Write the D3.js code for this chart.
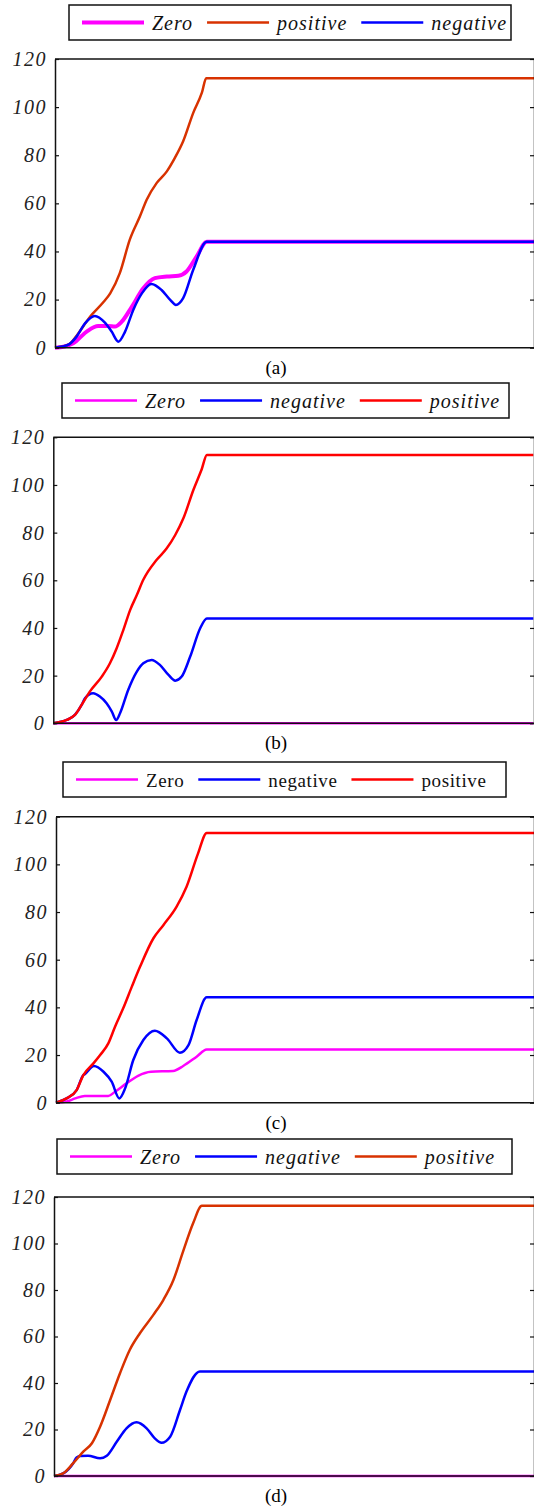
<!DOCTYPE html>
<html>
<head>
<meta charset="utf-8">
<script src="https://cdn.jsdelivr.net/npm/d3@7/dist/d3.min.js"></script>
<style>
    body { margin: 0; background: #fff; }
    svg { display: block; }
    svg text { font-family: 'Liberation Serif', 'Times New Roman', 'DejaVu Serif', serif; }
</style>
</head>
<body>
<svg id="chart" width="534" height="1510"></svg>
<script>
/* Four stacked panels, each plotting three responses (Zero, positive,
   negative) against time. The x axis has no ticks, so time runs 0..100
   across the visible plot width. */

const yTicks = [0, 20, 40, 60, 80, 100, 120];
const panelLabels = ['(a)', '(b)', '(c)', '(d)'];

// panel (a)
const aZero = [[0,0],[2,0.5],[3.8,1.8],[6.6,6.7],[9,9],[11.1,9],[12.5,8.8],[13.9,10.8],[16,17],[18.4,24.7],
    [20.8,28.9],[23.3,29.6],[25.7,29.9],[27.4,31.7],[29.5,37.9],[31.6,44],[100,44]];
const aPositive = [[0,0],[1.5,0.5],[3,1.5],[4.5,5],[7.3,12.9],[10.1,19],[11.5,22.6],[13.5,31],[15.6,45],
    [17.7,54.6],[19.1,61.5],[21.2,68.5],[23.3,73.3],[25,79],[26.7,85.8],[28.8,97.6],[30.6,106],[31.5,112],[100,112]];
const aNegative = [[0,0],[1.5,0.5],[3,1.5],[4.5,4.6],[6.25,10.1],[8.3,13.2],[10.4,10.4],[11.8,6.7],[13.2,2.5],
    [14.6,6.7],[16.3,15.7],[18.1,22.6],[20.1,26.5],[22.2,24],[24,19.9],[25.2,17.8],[26.7,20.6],[28.8,32.4],
    [31.6,44],[100,44]];

// panel (b)
const bZero = [[0,0],[100,0]];
const bNegative = [[0,0],[2.8,1.4],[4.5,3.5],[5.9,7.7],[6.6,10.5],[8.3,12.6],[9.7,11.2],[11.1,8.4],[12.2,4.9],
    [13.1,1.4],[13.9,4.2],[15.6,14],[17.4,21.7],[18.75,25.2],[20.5,26.6],[22.2,24.5],[24,20.3],[25.4,17.9],
    [26.75,19.6],[28.5,27.9],[30.6,39.9],[32,44],[100,44]];
const bPositive = [[0,0],[2.8,1.4],[4.5,3.5],[5.9,7.7],[7.6,13.3],[10.1,19.6],[11.8,25.2],[13.2,31.5],
    [14.6,39.2],[16,47.5],[17.4,53.8],[18.75,60.2],[21.5,68.5],[23.6,73.3],[25.4,79],[27.1,86],[29.2,98],
    [30.9,106.5],[32,112.6],[100,112.6]];

// panel (c)
const cZero = [[0,0],[2.2,0.5],[4,1.8],[6,2.8],[10.9,2.8],[12.3,4.6],[14.7,8.1],[17.1,11.3],[19.8,13],
    [24.4,13.3],[26.5,15.4],[29.3,19.3],[31.4,22.3],[100,22.3]];
const cNegative = [[0,0],[2.2,1.8],[4.3,5.3],[5.7,11.6],[6,12],[7.9,15.4],[9.9,13],[11.6,8.8],[13.2,1.8],
    [14.4,6],[16.1,17.9],[18.2,26.3],[20.6,30.2],[23.1,27],[25.8,21],[27.6,24.2],[29.3,34.7],[31.4,44.2],[100,44.2]];
const cPositive = [[0,0],[2.2,1.8],[4.3,5.3],[5.7,11.6],[7.8,16.5],[9.2,20],[10.9,24.9],[12.3,31.9],[14,39.6],
    [15.8,48.7],[17.5,57],[20.3,69],[22.4,74.6],[25.1,82.2],[27.2,90.6],[29.6,104.6],[31.4,113.2],[100,113.2]];

// panel (d)
const dZero = [[0,0],[100,0]];
const dNegative = [[0,0],[1.9,1.1],[4,5.5],[4.7,8],[5.5,8.6],[7.1,8.7],[9.6,7.6],[11,8.7],[13.1,14.8],
    [15.1,20.5],[17.2,23.1],[19.3,20.5],[21,16.2],[22.4,14.3],[24.2,16.9],[26.25,28.4],[27.6,36.3],[30.4,45],[100,45]];
const dPositive = [[0,0],[1.9,1.1],[4,5.5],[6.1,10.5],[7.9,14.1],[9.6,21.2],[11.7,32.7],[13.75,44.2],
    [15.8,54.3],[17.9,61.4],[20.7,69.3],[22.8,75.8],[24.9,84.4],[26.9,96.6],[29,108.8],[30.8,116.2],[100,116.2]];

const colors = {
    zero: '#ff00ff',
    negative: '#0000ff',
    positive: '#ff0000',
    positiveDark: '#d83200'
};

// layout of each panel: legend box and plot frame, in pixels
const panels = [
    { label: panelLabels[0], legend: [69, 5, 511], plot: [55, 59, 347.7], italic: true,
      series: [
        { name: 'Zero', data: aZero, color: colors.zero, width: 4 },
        { name: 'positive', data: aPositive, color: colors.positiveDark, width: 2.5 },
        { name: 'negative', data: aNegative, color: colors.negative, width: 2.5 }] },
    { label: panelLabels[1], legend: [62, 383, 509], plot: [53.3, 437.3, 723.3], italic: true,
      series: [
        { name: 'Zero', data: bZero, color: colors.zero, width: 2.5 },
        { name: 'negative', data: bNegative, color: colors.negative, width: 2.5 },
        { name: 'positive', data: bPositive, color: colors.positive, width: 2.5 }] },
    { label: panelLabels[2], legend: [63, 762, 506], plot: [56, 816.7, 1102.7], italic: false,
      series: [
        { name: 'Zero', data: cZero, color: colors.zero, width: 2.5 },
        { name: 'negative', data: cNegative, color: colors.negative, width: 2.5 },
        { name: 'positive', data: cPositive, color: colors.positive, width: 2.5 }] },
    { label: panelLabels[3], legend: [57, 1139, 512], plot: [54, 1197, 1476], italic: true,
      series: [
        { name: 'Zero', data: dZero, color: colors.zero, width: 2.5 },
        { name: 'negative', data: dNegative, color: colors.negative, width: 2.5 },
        { name: 'positive', data: dPositive, color: colors.positiveDark, width: 2.5 }] }
];

const SERIF = "'Liberation Serif', 'Times New Roman', 'DejaVu Serif', serif";
const PLOT_RIGHT = 535;
const root = d3.select('#chart');

function drawPanel(panel) {
    let [left, top, bottom] = panel.plot;
    let g = root.append('g');

    let x = d3.scaleLinear().domain([0, 100]).range([left, left + 480]);
    let y = d3.scaleLinear().domain([0, 120]).range([bottom, top]);

    // curves first, the frame goes on top of them
    let line = d3.line()
        .x(d => x(d[0]))
        .y(d => y(d[1]))
        .curve(d3.curveMonotoneX);
    panel.series.forEach(s => {
        g.append('path')
            .attr('d', line(s.data))
            .attr('fill', 'none')
            .attr('stroke', s.color)
            .attr('stroke-width', s.width)
            .attr('stroke-linejoin', 'round');
    });

    // left axis with inward ticks and italic labels
    let leftAxis = d3.axisLeft(y).tickValues(yTicks).tickSizeInner(-4).tickSizeOuter(0).tickPadding(8);
    let ga = g.append('g').attr('transform', `translate(${left},0)`).call(leftAxis);
    ga.attr('font-family', null);
    ga.select('.domain').attr('stroke', '#111').attr('stroke-width', 1.5);
    ga.selectAll('.tick line').attr('stroke', '#111').attr('stroke-width', 1.2);
    ga.selectAll('.tick text')
        .style('font-family', SERIF)
        .style('font-style', 'italic')
        .style('font-size', '20px')
        .style('letter-spacing', '1.5px')
        .attr('fill', '#222');

    // right axis mirrors the ticks (cut off by the figure edge)
    let rightAxis = d3.axisRight(y).tickValues(yTicks).tickSizeInner(-4).tickSizeOuter(0).tickFormat('');
    let gr = g.append('g').attr('transform', `translate(${PLOT_RIGHT - 1},0)`).call(rightAxis);
    gr.selectAll('.tick line').attr('stroke', '#111').attr('stroke-width', 1.2);
    gr.select('.domain').attr('stroke', '#111').attr('stroke-width', 1.5);

    // top and bottom edges of the box
    [top, bottom].forEach(yy => {
        g.append('line')
            .attr('x1', left).attr('x2', PLOT_RIGHT)
            .attr('y1', yy).attr('y2', yy)
            .attr('stroke', '#111')
            .attr('stroke-width', 1.6);
    });

    // panel caption
    g.append('text')
        .attr('x', 276)
        .attr('y', bottom + 26)
        .attr('text-anchor', 'middle')
        .style('font-family', SERIF)
        .style('font-size', '19px')
        .text(panel.label);

    drawLegend(g, panel);
}

function drawLegend(g, panel) {
    let [lx, ly, lr] = panel.legend;
    let h = 35;
    g.append('rect')
        .attr('x', lx).attr('y', ly)
        .attr('width', lr - lx).attr('height', h)
        .attr('fill', '#fff')
        .attr('stroke', '#111')
        .attr('stroke-width', 1.5);

    let cx = lx + 13;
    let mid = ly + h / 2;
    panel.series.forEach(s => {
        g.append('line')
            .attr('x1', cx).attr('x2', cx + 62)
            .attr('y1', mid).attr('y2', mid)
            .attr('stroke', s.color)
            .attr('stroke-width', s.width);
        cx += 70;
        let t = g.append('text')
            .attr('x', cx)
            .attr('y', mid + 7)
            .style('font-family', SERIF)
            .style('font-style', panel.italic ? 'italic' : 'normal')
            .style('font-size', panel.italic ? '20px' : '19px')
            .style('letter-spacing', panel.italic ? '1px' : '0.6px')
            .attr('fill', '#111')
            .text(s.name);
        cx += t.node().getComputedTextLength() + 14;
    });
}

panels.forEach(drawPanel);
</script>
</body>
</html>
